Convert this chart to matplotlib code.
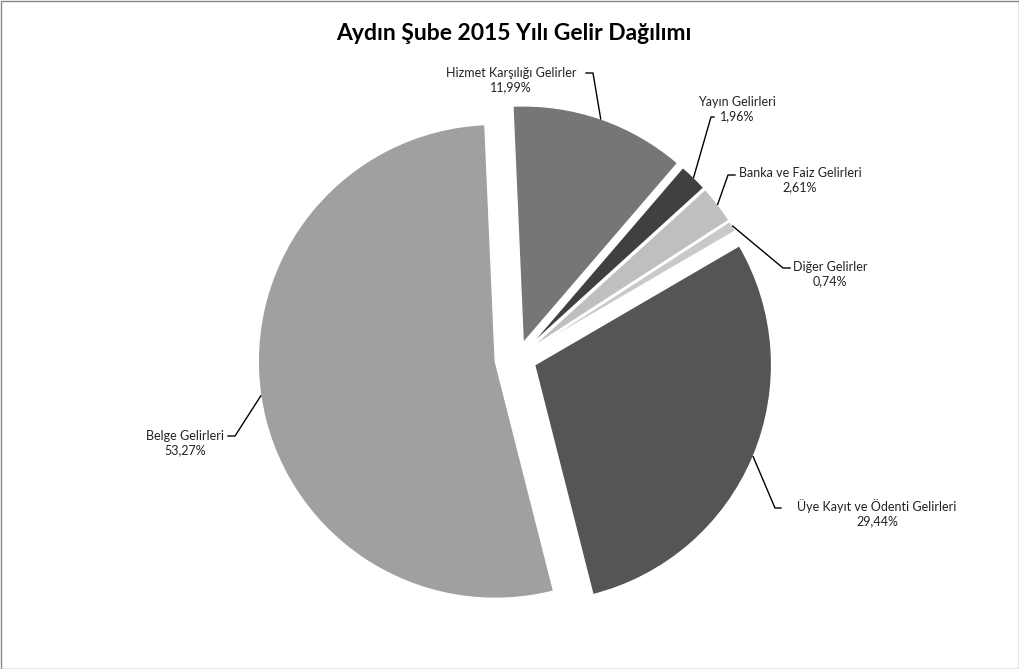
import numpy as np
import matplotlib.pyplot as plt
from matplotlib.patches import Rectangle

plt.rcParams['font.family'] = ['Lato', 'DejaVu Sans']

# data
categories = ['Hizmet Karşılığı Gelirler', 'Yayın Gelirleri', 'Banka ve Faiz Gelirleri',
              'Diğer Gelirler', 'Üye Kayıt ve Ödenti Gelirleri', 'Belge Gelirleri']
shares = [11.99, 1.96, 2.61, 0.74, 29.44, 53.27]
pct_labels = ['11,99%', '1,96%', '2,61%', '0,74%', '29,44%', '53,27%']

colors = ['#767676', '#404040', '#bfbfbf', '#c9c9c9', '#555555', '#a0a0a0']
explode_px = [16, 15, 15, 15, 18, 23]

W, H = 1020, 669
fig = plt.figure(figsize=(W / 100, H / 100), dpi=100)
ax = fig.add_axes([0, 0, 1, 1])

cx, cy, R = 518, H - 358, 237
wedges, _ = ax.pie(shares, explode=explode_px, colors=colors, startangle=92.5,
                   counterclock=False, center=(cx, cy), radius=R,
                   wedgeprops=dict(edgecolor='white', linewidth=1))
ax.set_xlim(0, W)
ax.set_ylim(0, H)
ax.axis('off')

# label layout (image pixel coords, y down): text centre, elbow, line end
label_pos = [(511, 80), (737, 109), (800, 180), (830, 274), (877, 513), (185, 443)]
elbows = [(593, 73), (711, 117), (728, 175), (783, 268), (775, 508), (235, 436)]
ends = [(586, 73), (714, 117), (735, 175), (790, 268), (781, 508), (228, 436)]

for w, name, pct, tp, el, en in zip(wedges, categories, pct_labels, label_pos, elbows, ends):
    a = np.deg2rad((w.theta1 + w.theta2) / 2)
    ax_x = w.center[0] + w.r * np.cos(a)
    ax_y = w.center[1] + w.r * np.sin(a)
    ax.plot([ax_x, el[0], en[0]], [ax_y, H - el[1], H - en[1]], color='black', lw=1)
    ax.text(tp[0], H - tp[1], name + '\n' + pct, ha='center', va='center',
            fontsize=9, color='#222222', linespacing=1.25)

ax.text(514, H - 33, 'Aydın Şube 2015 Yılı Gelir Dağılımı', ha='center', va='center',
        fontsize=16.5, fontweight='bold', color='black')

fig.patches.append(Rectangle((0.5 / W, 0.5 / H), 1 - 1.5 / W, 1 - 1.5 / H,
                             transform=fig.transFigure, fill=False,
                             edgecolor='#888888', lw=1))

fig.savefig('out.png', dpi=100)
